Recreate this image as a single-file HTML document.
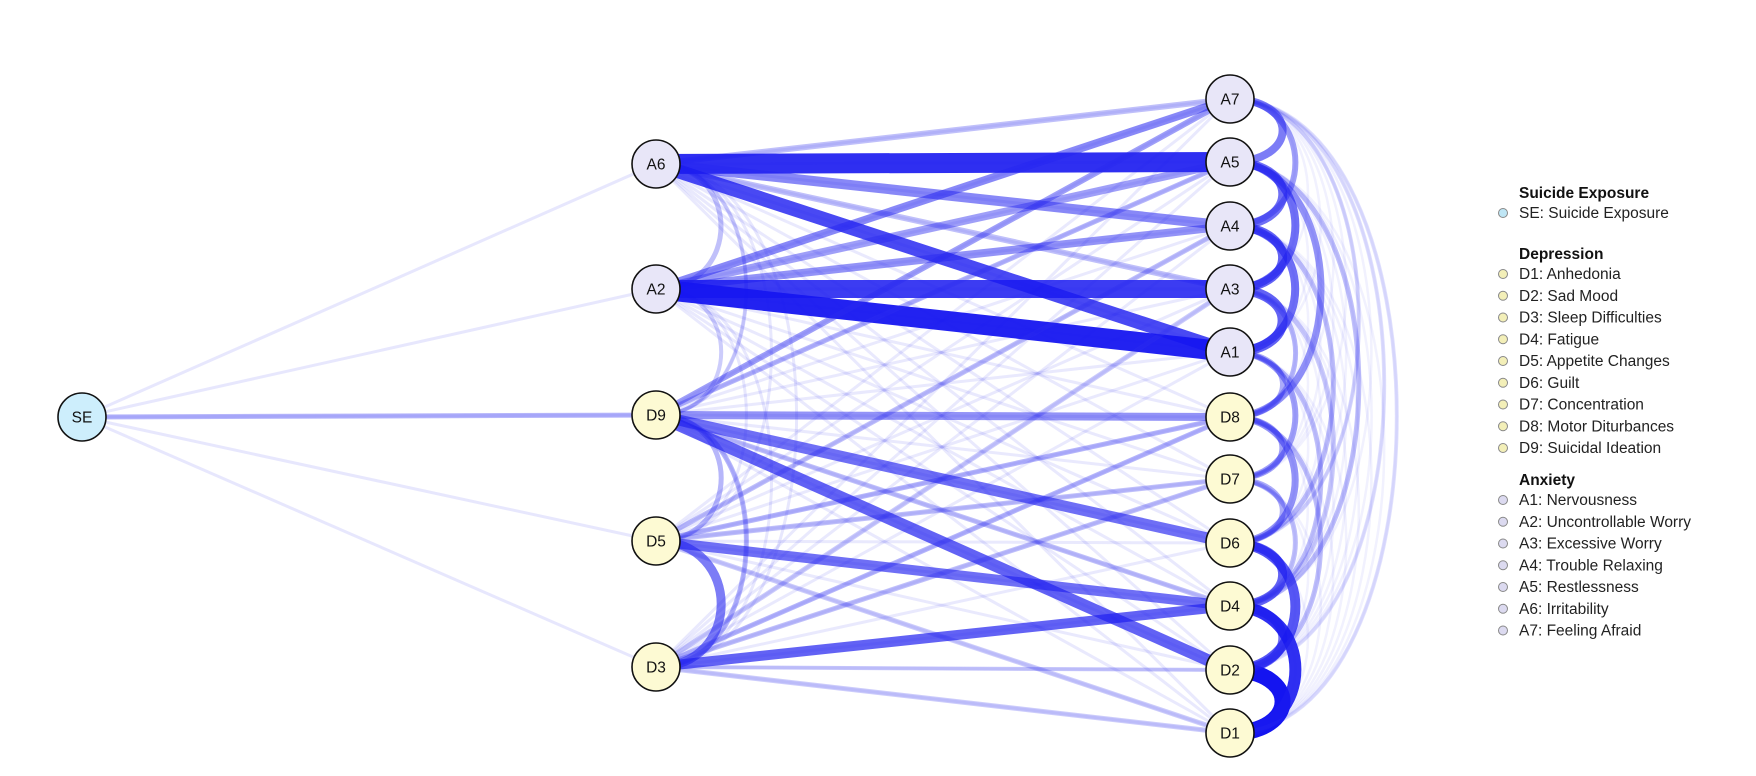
<!DOCTYPE html>
<html><head><meta charset="utf-8"><style>
html,body{margin:0;padding:0;background:#fff;width:1756px;height:776px;overflow:hidden}
svg{position:absolute;left:0;top:0}
text{font-family:"Liberation Sans",sans-serif}
</style></head><body>
<svg id="g" width="1756" height="776" xmlns="http://www.w3.org/2000/svg"></svg>
<script>
const N={SE:[82,417],A6:[656,164],A2:[656,289],D9:[656,415],D5:[656,541],D3:[656,667],
A7:[1230,99],A5:[1230,162],A4:[1230,226],A3:[1230,289],A1:[1230,352],D8:[1230,417],D7:[1230,479],D6:[1230,543],D4:[1230,606],D2:[1230,670],D1:[1230,733]};
const L=['A6','A2','D9','D5','D3'],R=['A7','A5','A4','A3','A1','D8','D7','D6','D4','D2','D1'];
const E=[];
L.forEach(a=>R.forEach(b=>E.push([a,b,3,0.11])));
L.forEach(a=>E.push(['SE',a,3,0.12]));
for(let i=0;i<R.length;i++)for(let j=i+2;j<R.length;j++)E.push([R[i],R[j],2.5,0.07]);
for(let i=0;i<L.length;i++)for(let j=i+2;j<L.length;j++)E.push([L[i],L[j],3,0.12]);
const S=[
['SE','D9',5,0.35],
['A6','A2',5,0.3],['A2','D9',4,0.25],['D9','D5',5,0.35],['D5','D3',9,0.6],['D9','D3',5,0.35],['A6','D9',4,0.2],
['A6','A7',6,0.3],['A6','A5',20,0.9],['A6','A4',10,0.55],['A6','A3',6,0.3],['A6','A1',14,0.8],
['A2','A7',8,0.55],['A2','A5',8,0.45],['A2','A4',8,0.5],['A2','A3',18,0.85],['A2','A1',20,0.95],
['D9','A7',6,0.45],['D9','A5',5,0.35],['D9','D8',8,0.5],['D9','D6',11,0.65],['D9','D2',12,0.7],['D9','D4',5,0.3],
['D5','D4',10,0.65],['D5','D8',5,0.35],['D5','D7',5,0.3],['D5','A4',5,0.3],['D5','D1',5,0.25],
['D3','D4',10,0.7],['D3','D1',5,0.25],['D3','D8',5,0.35],['D3','D7',5,0.3],['D3','A3',5,0.25],['D3','D2',4,0.25],
['A7','A5',8,0.6],['A5','A4',9,0.65],['A4','A3',9,0.7],['A3','A1',10,0.7],['A1','D8',6,0.4],['D8','D7',6,0.45],['D7','D6',6,0.4],['D6','D4',9,0.7],['D4','D2',9,0.65],['D2','D1',16,1],
['A7','A4',6,0.45],['A5','A3',8,0.65],['A4','A1',8,0.65],['A5','D8',7,0.5],['A3','D8',5,0.35],['D8','D6',7,0.5],['D7','D4',5,0.3],['D6','D2',10,0.75],['D4','D1',12,0.9],['A1','D7',6,0.45],
['A7','D1',4,0.15],['A7','D2',4,0.15],['A5','D4',5,0.3],['A4','D6',5,0.3],['A3','D4',5,0.25],['A1','D4',5,0.3],['D8','D2',5,0.3],['A7','D6',4,0.2]
];
E.push(...S);
let s='';
function col(o){return `rgba(${Math.round(60-40*o)},${Math.round(60-40*o)},240,${o})`}
E.forEach(([a,b,w,o])=>{
 const [x1,y1]=N[a],[x2,y2]=N[b];let d;
 if(x1===x2){const dist=Math.abs(y2-y1);const bg=40+0.2*dist;const k=bg/0.75;
  d=`M${x1},${y1} C${x1+k},${y1} ${x2+k},${y2} ${x2},${y2}`;}
 else d=`M${x1},${y1} L${x2},${y2}`;
 s+=`<path d="${d}" fill="none" stroke="${col(o)}" stroke-width="${w}"/>`;
});
for(const k in N){const [x,y]=N[k];const f=k=='SE'?'#cdeefc':k[0]=='D'?'#fdfad3':'#e8e6f8';
 s+=`<circle cx="${x}" cy="${y}" r="24" fill="${f}" stroke="#111" stroke-width="1.6"/><text x="${x}" y="${y+5.5}" text-anchor="middle" font-size="15.5" fill="#111">${k}</text>`;}
const leg=[['Suicide Exposure',193,null],['SE: Suicide Exposure',213,'#bfe6f5'],
['Depression',254,null]];
const dn=['D1: Anhedonia','D2: Sad Mood','D3: Sleep Difficulties','D4: Fatigue','D5: Appetite Changes','D6: Guilt','D7: Concentration','D8: Motor Diturbances','D9: Suicidal Ideation'];
dn.forEach((t,i)=>leg.push([t,274+i*21.75,'#f3efb8']));
leg.push(['Anxiety',480,null]);
const an=['A1: Nervousness','A2: Uncontrollable Worry','A3: Excessive Worry','A4: Trouble Relaxing','A5: Restlessness','A6: Irritability','A7: Feeling Afraid'];
an.forEach((t,i)=>leg.push([t,500+i*21.75,'#dcdaf0']));
leg.forEach(([t,y,c])=>{
 if(c===null) s+=`<text x="1519" y="${y+5}" font-size="15.5" font-weight="bold" fill="#111">${t}</text>`;
 else s+=`<circle cx="1503" cy="${y}" r="4.5" fill="${c}" stroke="#888" stroke-width="1"/><text x="1519" y="${y+5}" font-size="15.5" fill="#222">${t}</text>`;
});
document.getElementById('g').innerHTML=s;
</script>
</body></html>
